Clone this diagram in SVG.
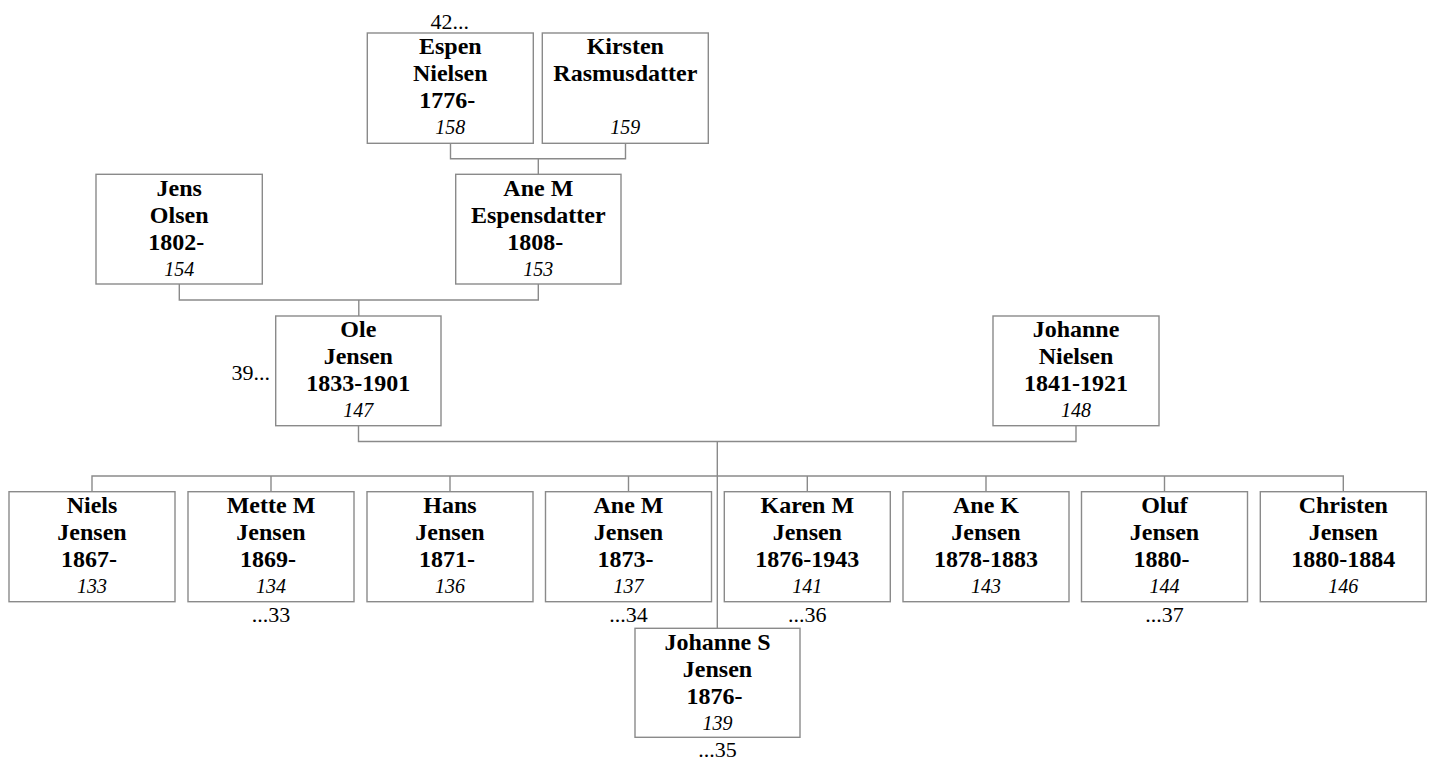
<svg xmlns="http://www.w3.org/2000/svg" width="1432" height="761" viewBox="0 0 1432 761">
<defs>
<style>
.box{fill:#fff;stroke:#8a8a8a;stroke-width:1.4}
.c{fill:none;stroke:#8a8a8a;stroke-width:1.4}
</style>
</defs>
<rect width="1432" height="761" fill="#fff"/>
<g id="connectors">
<path class="c" d="M450.5,143.5V158.7H625.5V143.5M538.3,158.7V175"/>
<path class="c" d="M179.3,284V300H538.3V284M358.8,300V316"/>
<path class="c" d="M358.5,426V441.5H1076V426M717.3,441.5V628.3"/>
<path class="c" d="M92,491.7V476H1343.3V491.7M271,476V491.7M450,476V491.7M628.5,476V491.7M807.3,476V491.7M986,476V491.7M1164.5,476V491.7"/>
</g>
<g id="nodes">
<g id="n158"><rect class="box" x="367.3" y="33" width="166" height="110.3"/>
<text x="450.3" y="54" font-family="Liberation Serif" font-size="24" font-weight="bold" text-anchor="middle">Espen</text>
<text x="450.3" y="81" font-family="Liberation Serif" font-size="24" font-weight="bold" text-anchor="middle">Nielsen</text>
<text x="447.3" y="108" font-family="Liberation Serif" font-size="24" font-weight="bold" text-anchor="middle">1776-</text>
<text x="450.3" y="134" font-family="Liberation Serif" font-size="20" font-style="italic" text-anchor="middle">158</text>
<text x="449.7" y="28.5" font-family="Liberation Serif" font-size="22" text-anchor="middle">42...</text></g>
<g id="n159"><rect class="box" x="542.3" y="33" width="166" height="110.3"/>
<text x="625.3" y="54" font-family="Liberation Serif" font-size="24" font-weight="bold" text-anchor="middle">Kirsten</text>
<text x="625.3" y="81" font-family="Liberation Serif" font-size="24" font-weight="bold" text-anchor="middle">Rasmusdatter</text>
<text x="625.3" y="134" font-family="Liberation Serif" font-size="20" font-style="italic" text-anchor="middle">159</text></g>
<g id="n154"><rect class="box" x="96" y="174.3" width="166.3" height="109.7"/>
<text x="179.2" y="195.5" font-family="Liberation Serif" font-size="24" font-weight="bold" text-anchor="middle">Jens</text>
<text x="179.2" y="222.5" font-family="Liberation Serif" font-size="24" font-weight="bold" text-anchor="middle">Olsen</text>
<text x="176.2" y="249.5" font-family="Liberation Serif" font-size="24" font-weight="bold" text-anchor="middle">1802-</text>
<text x="179.2" y="275.5" font-family="Liberation Serif" font-size="20" font-style="italic" text-anchor="middle">154</text></g>
<g id="n153"><rect class="box" x="455.7" y="174.3" width="165.3" height="109.7"/>
<text x="538.3" y="195.5" font-family="Liberation Serif" font-size="24" font-weight="bold" text-anchor="middle">Ane M</text>
<text x="538.3" y="222.5" font-family="Liberation Serif" font-size="24" font-weight="bold" text-anchor="middle">Espensdatter</text>
<text x="535.3" y="249.5" font-family="Liberation Serif" font-size="24" font-weight="bold" text-anchor="middle">1808-</text>
<text x="538.3" y="275.5" font-family="Liberation Serif" font-size="20" font-style="italic" text-anchor="middle">153</text></g>
<g id="n147"><rect class="box" x="275.7" y="316" width="165.3" height="109.7"/>
<text x="358.3" y="337" font-family="Liberation Serif" font-size="24" font-weight="bold" text-anchor="middle">Ole</text>
<text x="358.3" y="364" font-family="Liberation Serif" font-size="24" font-weight="bold" text-anchor="middle">Jensen</text>
<text x="358.3" y="391" font-family="Liberation Serif" font-size="24" font-weight="bold" text-anchor="middle">1833-1901</text>
<text x="358.3" y="417" font-family="Liberation Serif" font-size="20" font-style="italic" text-anchor="middle">147</text>
<text x="270" y="380" font-family="Liberation Serif" font-size="22" text-anchor="end">39...</text></g>
<g id="n148"><rect class="box" x="993" y="316" width="166" height="109.7"/>
<text x="1076" y="337" font-family="Liberation Serif" font-size="24" font-weight="bold" text-anchor="middle">Johanne</text>
<text x="1076" y="364" font-family="Liberation Serif" font-size="24" font-weight="bold" text-anchor="middle">Nielsen</text>
<text x="1076" y="391" font-family="Liberation Serif" font-size="24" font-weight="bold" text-anchor="middle">1841-1921</text>
<text x="1076" y="417" font-family="Liberation Serif" font-size="20" font-style="italic" text-anchor="middle">148</text></g>
<g id="n133"><rect class="box" x="9" y="491.7" width="166" height="110"/>
<text x="92" y="513" font-family="Liberation Serif" font-size="24" font-weight="bold" text-anchor="middle">Niels</text>
<text x="92" y="540" font-family="Liberation Serif" font-size="24" font-weight="bold" text-anchor="middle">Jensen</text>
<text x="89" y="567" font-family="Liberation Serif" font-size="24" font-weight="bold" text-anchor="middle">1867-</text>
<text x="92" y="593" font-family="Liberation Serif" font-size="20" font-style="italic" text-anchor="middle">133</text></g>
<g id="n134"><rect class="box" x="188" y="491.7" width="166" height="110"/>
<text x="271" y="513" font-family="Liberation Serif" font-size="24" font-weight="bold" text-anchor="middle">Mette M</text>
<text x="271" y="540" font-family="Liberation Serif" font-size="24" font-weight="bold" text-anchor="middle">Jensen</text>
<text x="268" y="567" font-family="Liberation Serif" font-size="24" font-weight="bold" text-anchor="middle">1869-</text>
<text x="271" y="593" font-family="Liberation Serif" font-size="20" font-style="italic" text-anchor="middle">134</text>
<text x="271" y="621.5" font-family="Liberation Serif" font-size="22" text-anchor="middle">...33</text></g>
<g id="n136"><rect class="box" x="367" y="491.7" width="166" height="110"/>
<text x="450" y="513" font-family="Liberation Serif" font-size="24" font-weight="bold" text-anchor="middle">Hans</text>
<text x="450" y="540" font-family="Liberation Serif" font-size="24" font-weight="bold" text-anchor="middle">Jensen</text>
<text x="447" y="567" font-family="Liberation Serif" font-size="24" font-weight="bold" text-anchor="middle">1871-</text>
<text x="450" y="593" font-family="Liberation Serif" font-size="20" font-style="italic" text-anchor="middle">136</text></g>
<g id="n137"><rect class="box" x="545.5" y="491.7" width="166" height="110"/>
<text x="628.5" y="513" font-family="Liberation Serif" font-size="24" font-weight="bold" text-anchor="middle">Ane M</text>
<text x="628.5" y="540" font-family="Liberation Serif" font-size="24" font-weight="bold" text-anchor="middle">Jensen</text>
<text x="625.5" y="567" font-family="Liberation Serif" font-size="24" font-weight="bold" text-anchor="middle">1873-</text>
<text x="628.5" y="593" font-family="Liberation Serif" font-size="20" font-style="italic" text-anchor="middle">137</text>
<text x="628.5" y="621.5" font-family="Liberation Serif" font-size="22" text-anchor="middle">...34</text></g>
<g id="n141"><rect class="box" x="724.3" y="491.7" width="166" height="110"/>
<text x="807.3" y="513" font-family="Liberation Serif" font-size="24" font-weight="bold" text-anchor="middle">Karen M</text>
<text x="807.3" y="540" font-family="Liberation Serif" font-size="24" font-weight="bold" text-anchor="middle">Jensen</text>
<text x="807.3" y="567" font-family="Liberation Serif" font-size="24" font-weight="bold" text-anchor="middle">1876-1943</text>
<text x="807.3" y="593" font-family="Liberation Serif" font-size="20" font-style="italic" text-anchor="middle">141</text>
<text x="807.3" y="621.5" font-family="Liberation Serif" font-size="22" text-anchor="middle">...36</text></g>
<g id="n143"><rect class="box" x="903" y="491.7" width="166" height="110"/>
<text x="986" y="513" font-family="Liberation Serif" font-size="24" font-weight="bold" text-anchor="middle">Ane K</text>
<text x="986" y="540" font-family="Liberation Serif" font-size="24" font-weight="bold" text-anchor="middle">Jensen</text>
<text x="986" y="567" font-family="Liberation Serif" font-size="24" font-weight="bold" text-anchor="middle">1878-1883</text>
<text x="986" y="593" font-family="Liberation Serif" font-size="20" font-style="italic" text-anchor="middle">143</text></g>
<g id="n144"><rect class="box" x="1081.5" y="491.7" width="166" height="110"/>
<text x="1164.5" y="513" font-family="Liberation Serif" font-size="24" font-weight="bold" text-anchor="middle">Oluf</text>
<text x="1164.5" y="540" font-family="Liberation Serif" font-size="24" font-weight="bold" text-anchor="middle">Jensen</text>
<text x="1161.5" y="567" font-family="Liberation Serif" font-size="24" font-weight="bold" text-anchor="middle">1880-</text>
<text x="1164.5" y="593" font-family="Liberation Serif" font-size="20" font-style="italic" text-anchor="middle">144</text>
<text x="1164.5" y="621.5" font-family="Liberation Serif" font-size="22" text-anchor="middle">...37</text></g>
<g id="n146"><rect class="box" x="1260.3" y="491.7" width="166" height="110"/>
<text x="1343.3" y="513" font-family="Liberation Serif" font-size="24" font-weight="bold" text-anchor="middle">Christen</text>
<text x="1343.3" y="540" font-family="Liberation Serif" font-size="24" font-weight="bold" text-anchor="middle">Jensen</text>
<text x="1343.3" y="567" font-family="Liberation Serif" font-size="24" font-weight="bold" text-anchor="middle">1880-1884</text>
<text x="1343.3" y="593" font-family="Liberation Serif" font-size="20" font-style="italic" text-anchor="middle">146</text></g>
<g id="n139"><rect class="box" x="635" y="628.3" width="165" height="109"/>
<text x="717.5" y="649.5" font-family="Liberation Serif" font-size="24" font-weight="bold" text-anchor="middle">Johanne S</text>
<text x="717.5" y="676.5" font-family="Liberation Serif" font-size="24" font-weight="bold" text-anchor="middle">Jensen</text>
<text x="714.5" y="703.5" font-family="Liberation Serif" font-size="24" font-weight="bold" text-anchor="middle">1876-</text>
<text x="717.5" y="729.5" font-family="Liberation Serif" font-size="20" font-style="italic" text-anchor="middle">139</text>
<text x="717.5" y="757" font-family="Liberation Serif" font-size="22" text-anchor="middle">...35</text></g>
</g>
</svg>
